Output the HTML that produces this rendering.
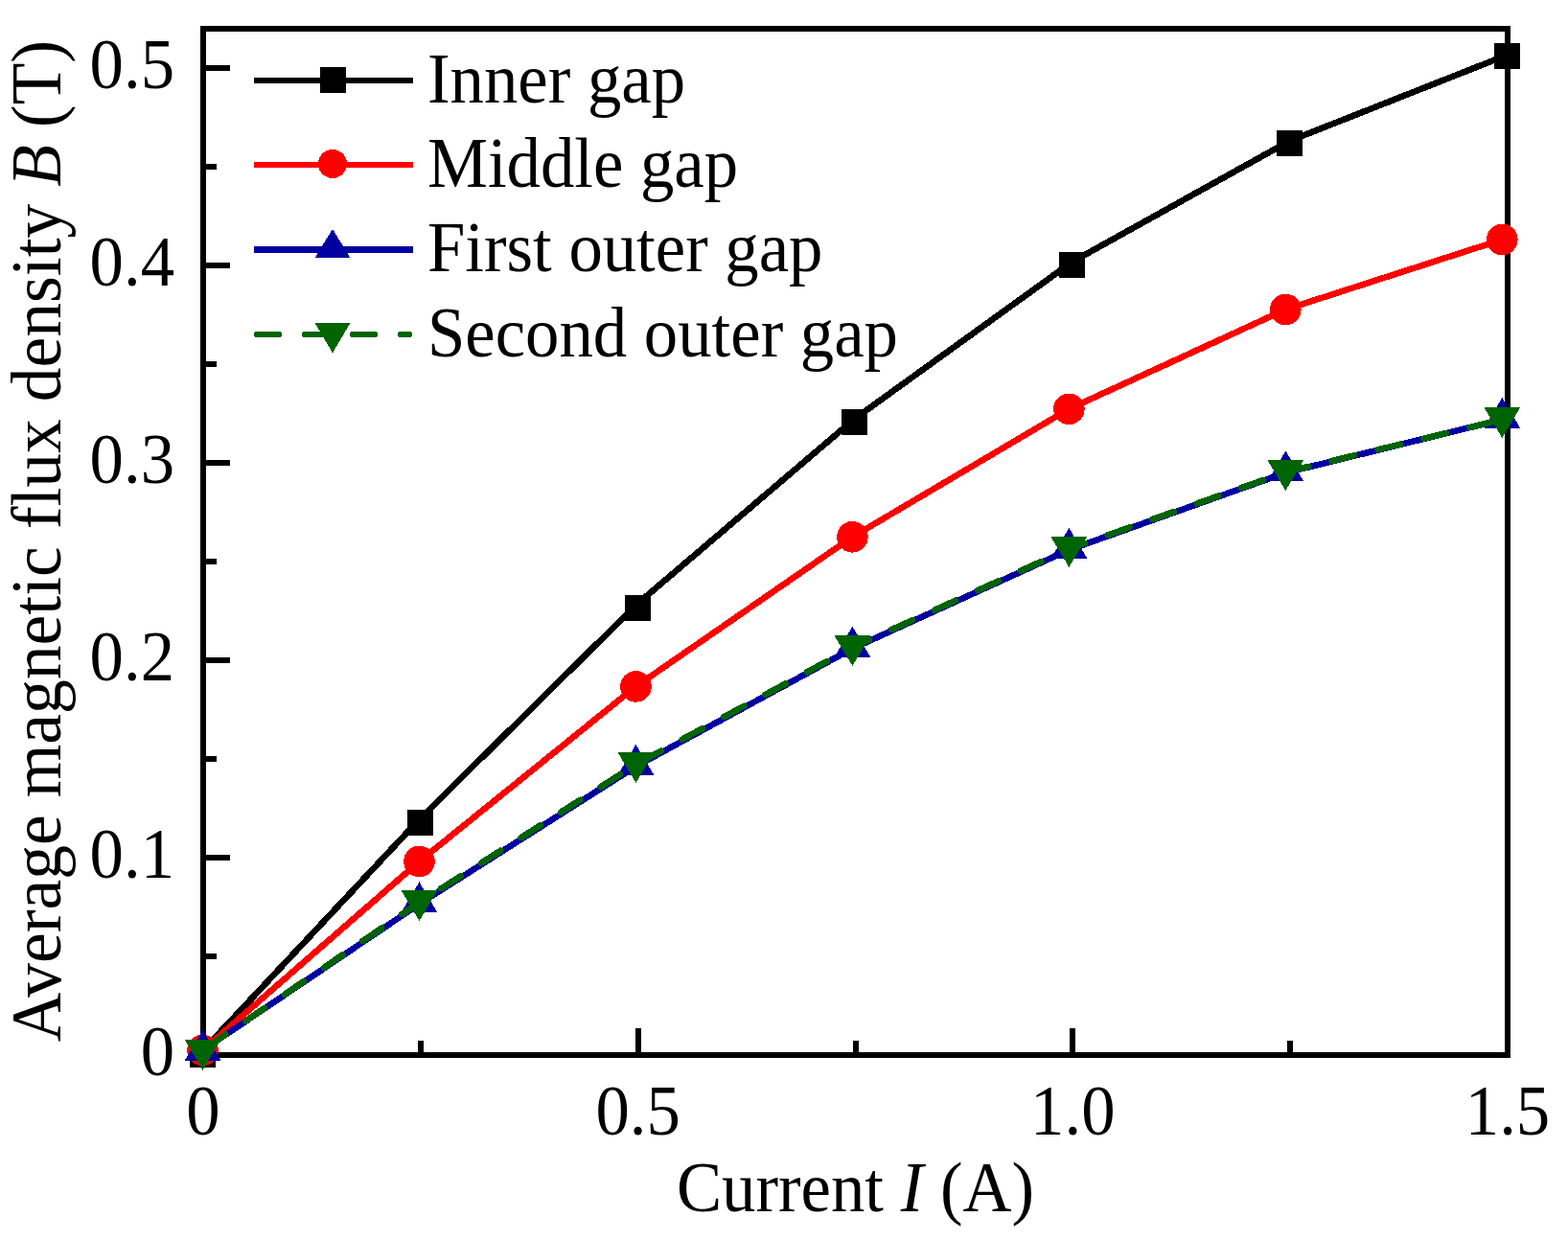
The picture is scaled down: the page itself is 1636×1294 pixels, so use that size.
<!DOCTYPE html>
<html><head><meta charset="utf-8"><title>Average magnetic flux density vs current</title>
<style>html,body{margin:0;padding:0;background:#fff;}svg{display:block;}</style></head>
<body>
<svg shape-rendering="crispEdges" width="1636" height="1294" viewBox="0 0 1636 1294">
<rect width="1636" height="1294" fill="#fff"/>
<g stroke="#000" stroke-width="6" fill="none" stroke-linecap="butt">
<rect x="212" y="30" width="1361" height="1071" stroke-linejoin="miter"/>
<line x1="215" y1="1101" x2="240" y2="1101"/>
<line x1="215" y1="895" x2="240" y2="895"/>
<line x1="215" y1="689" x2="240" y2="689"/>
<line x1="215" y1="483" x2="240" y2="483"/>
<line x1="215" y1="277" x2="240" y2="277"/>
<line x1="215" y1="71" x2="240" y2="71"/>
<line x1="215" y1="998" x2="226" y2="998"/>
<line x1="215" y1="792" x2="226" y2="792"/>
<line x1="215" y1="586" x2="226" y2="586"/>
<line x1="215" y1="380" x2="226" y2="380"/>
<line x1="215" y1="174" x2="226" y2="174"/>
<line x1="212.00" y1="1098" x2="212.00" y2="1073"/>
<line x1="665.67" y1="1098" x2="665.67" y2="1073"/>
<line x1="1119.33" y1="1098" x2="1119.33" y2="1073"/>
<line x1="1573.00" y1="1098" x2="1573.00" y2="1073"/>
<line x1="438.83" y1="1098" x2="438.83" y2="1086"/>
<line x1="892.50" y1="1098" x2="892.50" y2="1086"/>
<line x1="1346.16" y1="1098" x2="1346.16" y2="1086"/>
</g>
<g font-family="Liberation Serif, serif" font-size="73.3" fill="#000">
<text transform="translate(182,1122) scale(0.965,1)" text-anchor="end">0</text>
<text transform="translate(182,916) scale(0.965,1)" text-anchor="end">0.1</text>
<text transform="translate(182,710) scale(0.965,1)" text-anchor="end">0.2</text>
<text transform="translate(182,504) scale(0.965,1)" text-anchor="end">0.3</text>
<text transform="translate(182,298) scale(0.965,1)" text-anchor="end">0.4</text>
<text transform="translate(182,92) scale(0.965,1)" text-anchor="end">0.5</text>
<text transform="translate(212.0,1184) scale(0.965,1)" text-anchor="middle">0</text>
<text transform="translate(665.67,1184) scale(0.965,1)" text-anchor="middle">0.5</text>
<text transform="translate(1119.33,1184) scale(0.965,1)" text-anchor="middle">1.0</text>
<text transform="translate(1573.0,1184) scale(0.965,1)" text-anchor="middle">1.5</text>
<text transform="translate(892.5,1264) scale(0.965,1)" text-anchor="middle">Current <tspan font-style="italic">I</tspan> (A)</text>
<text transform="translate(63,564.5) rotate(-90) scale(0.976,1)" text-anchor="middle">Average magnetic flux density <tspan font-style="italic">B</tspan> (T)</text>
<text transform="translate(446,106.5) scale(0.965,1)" text-anchor="start">Inner gap</text>
<text transform="translate(446,194.9) scale(0.965,1)" text-anchor="start">Middle gap</text>
<text transform="translate(446,283.3) scale(0.965,1)" text-anchor="start">First outer gap</text>
<text transform="translate(446,371.7) scale(0.965,1)" text-anchor="start">Second outer gap</text>
</g>
<polyline points="211.50,1096.50 438.33,854.30 665.16,630.00 891.99,436.80 1118.82,273.20 1345.65,147.00 1572.48,57.40" fill="none" stroke="#000000" stroke-width="6.6" stroke-linejoin="round"/>
<rect x="198.00" y="1086.80" width="27" height="27" fill="#000000"/>
<rect x="424.83" y="844.80" width="27" height="27" fill="#000000"/>
<rect x="651.66" y="620.50" width="27" height="27" fill="#000000"/>
<rect x="878.49" y="427.30" width="27" height="27" fill="#000000"/>
<rect x="1105.32" y="262.70" width="27" height="27" fill="#000000"/>
<rect x="1332.15" y="135.50" width="27" height="27" fill="#000000"/>
<rect x="1558.98" y="44.90" width="27" height="27" fill="#000000"/>
<polyline points="211.50,1096.00 437.47,899.00 663.44,716.40 889.41,560.30 1115.38,426.80 1341.35,323.00 1567.32,250.00" fill="none" stroke="#ff0000" stroke-width="6.6" stroke-linejoin="round"/>
<circle cx="211.50" cy="1096.00" r="16.3" fill="#ff0000"/>
<circle cx="437.47" cy="899.00" r="16.3" fill="#ff0000"/>
<circle cx="663.44" cy="716.40" r="16.3" fill="#ff0000"/>
<circle cx="889.41" cy="560.30" r="16.3" fill="#ff0000"/>
<circle cx="1115.38" cy="426.80" r="16.3" fill="#ff0000"/>
<circle cx="1341.35" cy="323.00" r="16.3" fill="#ff0000"/>
<circle cx="1567.32" cy="250.00" r="16.3" fill="#ff0000"/>
<polyline points="211.50,1096.00 437.47,943.30 663.44,799.80 889.41,676.80 1115.38,573.80 1341.35,493.30 1567.32,437.80" fill="none" stroke="#0000a0" stroke-width="6.6" stroke-linejoin="round"/>
<polygon points="211.50,1074.92 192.50,1106.92 230.50,1106.92" fill="#0000a0"/>
<polygon points="437.47,920.42 418.47,952.42 456.47,952.42" fill="#0000a0"/>
<polygon points="663.44,776.92 644.44,808.92 682.44,808.92" fill="#0000a0"/>
<polygon points="889.41,653.92 870.41,685.92 908.41,685.92" fill="#0000a0"/>
<polygon points="1115.38,550.92 1096.38,582.92 1134.38,582.92" fill="#0000a0"/>
<polygon points="1341.35,470.42 1322.35,502.42 1360.35,502.42" fill="#0000a0"/>
<polygon points="1567.32,414.92 1548.32,446.92 1586.32,446.92" fill="#0000a0"/>
<polyline points="211.50,1096.00 437.47,941.70 663.44,797.70 889.41,675.70 1115.38,572.70 1341.35,492.70 1567.32,437.70" fill="none" stroke="#006400" stroke-width="6.5" stroke-linejoin="round" stroke-linecap="round" stroke-dasharray="24 25.3" stroke-dashoffset="-5"/>
<polygon points="192.50,1084.52 230.50,1084.52 211.50,1116.52" fill="#006400"/>
<polygon points="418.47,929.02 456.47,929.02 437.47,961.02" fill="#006400"/>
<polygon points="644.44,785.02 682.44,785.02 663.44,817.02" fill="#006400"/>
<polygon points="870.41,663.02 908.41,663.02 889.41,695.02" fill="#006400"/>
<polygon points="1096.38,560.02 1134.38,560.02 1115.38,592.02" fill="#006400"/>
<polygon points="1322.35,480.02 1360.35,480.02 1341.35,512.02" fill="#006400"/>
<polygon points="1548.32,425.02 1586.32,425.02 1567.32,457.02" fill="#006400"/>
<line x1="265" y1="84" x2="431" y2="84" stroke="#000000" stroke-width="6"/>
<rect x="334.00" y="69.50" width="27" height="27" fill="#000000"/>
<line x1="265" y1="172" x2="431" y2="172" stroke="#ff0000" stroke-width="6"/>
<circle cx="347.00" cy="171.00" r="15" fill="#ff0000"/>
<line x1="265" y1="260.5" x2="431" y2="260.5" stroke="#0000a0" stroke-width="6.5"/>
<polygon points="347.00,238.80 328.75,268.80 365.25,268.80" fill="#0000a0"/>
<line x1="268" y1="349" x2="427" y2="349" stroke="#006400" stroke-width="6" stroke-linecap="round" stroke-dasharray="23 27"/>
<polygon points="328.75,337.41 365.25,337.41 347.00,368.41" fill="#006400"/>
</svg>
</body></html>
